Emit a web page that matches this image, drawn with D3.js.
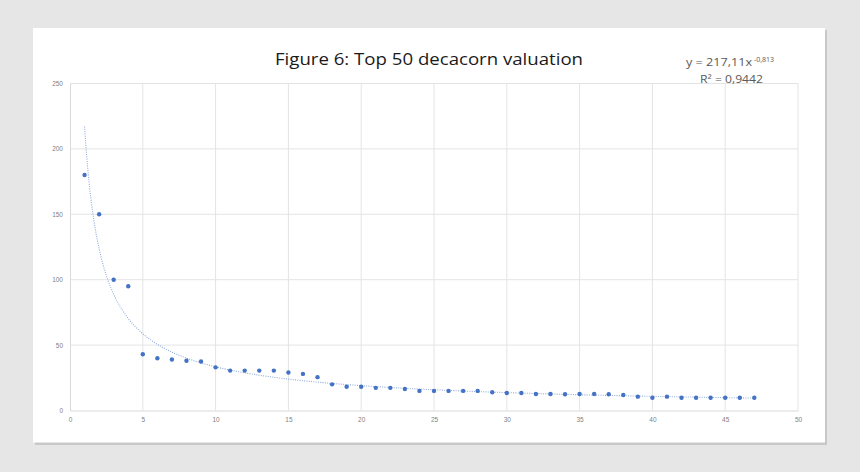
<!DOCTYPE html>
<html>
<head>
<meta charset="utf-8">
<script src="https://cdn.jsdelivr.net/npm/d3@7/dist/d3.min.js"></script>
<style>
  html, body { margin: 0; padding: 0; background: #e6e6e6; }
  svg { display: block; }
</style>
</head>
<body>
<svg id="chart" width="860" height="472"></svg>
<script>
// ---- Data ----
const ranks = [1,2,3,4,5,6,7,8,9,10,11,12,13,14,15,16,17,18,19,20,21,22,23,24,25,26,27,28,29,30,31,32,33,34,35,36,37,38,39,40,41,42,43,44,45,46,47];
const valuations = [180,150,100,95,43,40,39,38,37.5,33,30.5,30.5,30.5,30.5,29,28,25.5,20,18.2,18.2,17.3,17.3,16.4,15,15,15,15,15,14,13.4,13.4,12.6,12.6,12.4,12.6,12.6,12.4,11.9,10.6,9.8,10.6,9.8,9.8,9.8,9.8,9.8,9.8];
const xTicks = [0,5,10,15,20,25,30,35,40,45,50];
const yTicks = [0,50,100,150,200,250];
const trendCoef = 217.11;
const trendExp = -0.813;
const titleText = "Figure 6: Top 50 decacorn valuation";

const svg = d3.select("#chart");

// card with shadow
svg.append("rect").attr("x", 35).attr("y", 30).attr("width", 792).attr("height", 415).attr("fill", "#c8c8c8");
svg.append("rect").attr("x", 33).attr("y", 28).attr("width", 792).attr("height", 414.5).attr("fill", "#ffffff");

const x = d3.scaleLinear().domain([0, 50]).range([70, 798]);
const y = d3.scaleLinear().domain([0, 250]).range([410.5, 83.5]);

// gridlines
svg.append("g").selectAll("line.v").data(xTicks.slice(1)).join("line")
  .attr("x1", d => x(d)).attr("x2", d => x(d))
  .attr("y1", y(250)).attr("y2", y(0))
  .attr("stroke", "#e4e4e4").attr("stroke-width", 1);
svg.append("g").selectAll("line.h").data(yTicks.slice(1)).join("line")
  .attr("x1", x(0)).attr("x2", x(50))
  .attr("y1", d => y(d)).attr("y2", d => y(d))
  .attr("stroke", "#e4e4e4").attr("stroke-width", 1);

// axes
const xAxis = d3.axisBottom(x).tickValues(xTicks).tickSize(0).tickPadding(7);
const gx = svg.append("g").attr("transform", `translate(0,${y(0)})`).call(xAxis);
gx.select(".domain").attr("stroke", "#d9d9d9");
gx.selectAll("text").attr("fill", "#7f7f7f").attr("font-size", "6.5px").attr("font-family", "Liberation Sans, Arial, sans-serif");

const yAxis = d3.axisLeft(y).tickValues(yTicks).tickSize(0).tickPadding(7);
const gy = svg.append("g").attr("transform", `translate(${x(0)},0)`).call(yAxis);
gy.select(".domain").attr("stroke", "#d9d9d9");
gy.selectAll("text").attr("fill", "#7f7f7f").attr("font-size", "6.5px").attr("font-family", "Liberation Sans, Arial, sans-serif");

// trendline (power fit shown on the chart)
const trendX = d3.range(1, 47.01, 0.1);
const line = d3.line().x(d => x(d)).y(d => y(trendCoef * Math.pow(d, trendExp)));
svg.append("path").datum(trendX).attr("d", line)
  .attr("fill", "none").attr("stroke", "#8eaadb").attr("stroke-width", 1.1)
  .attr("stroke-dasharray", "1,1.3");

// points
svg.append("g").selectAll("circle").data(ranks).join("circle")
  .attr("cx", d => x(d)).attr("cy", (d, i) => y(valuations[i]))
  .attr("r", 2.2).attr("fill", "#4472c4");

// title
svg.append("text").attr("x", 429).attr("y", 65).attr("text-anchor", "middle")
  .attr("font-family", "Open Sans, Liberation Sans, sans-serif").attr("font-size", "17px")
  .attr("fill", "#1a1a1a").attr("textLength", 308).attr("lengthAdjust", "spacingAndGlyphs")
  .text(titleText);

// equation label
const eq = svg.append("text").attr("x", 686).attr("y", 66)
  .attr("font-family", "Open Sans, Liberation Sans, sans-serif").attr("font-size", "11px").attr("fill", "#595959");
eq.append("tspan").attr("textLength", 66).attr("lengthAdjust", "spacingAndGlyphs").text("y = 217,11x");
eq.append("tspan").attr("dy", -4.5).attr("dx", 2).attr("font-size", "7px").text("-0,813");
svg.append("text").attr("x", 731.5).attr("y", 83).attr("text-anchor", "middle")
  .attr("font-family", "Open Sans, Liberation Sans, sans-serif").attr("font-size", "11px").attr("fill", "#595959")
  .attr("textLength", 63).attr("lengthAdjust", "spacingAndGlyphs")
  .text("R² = 0,9442");
</script>
</body>
</html>
